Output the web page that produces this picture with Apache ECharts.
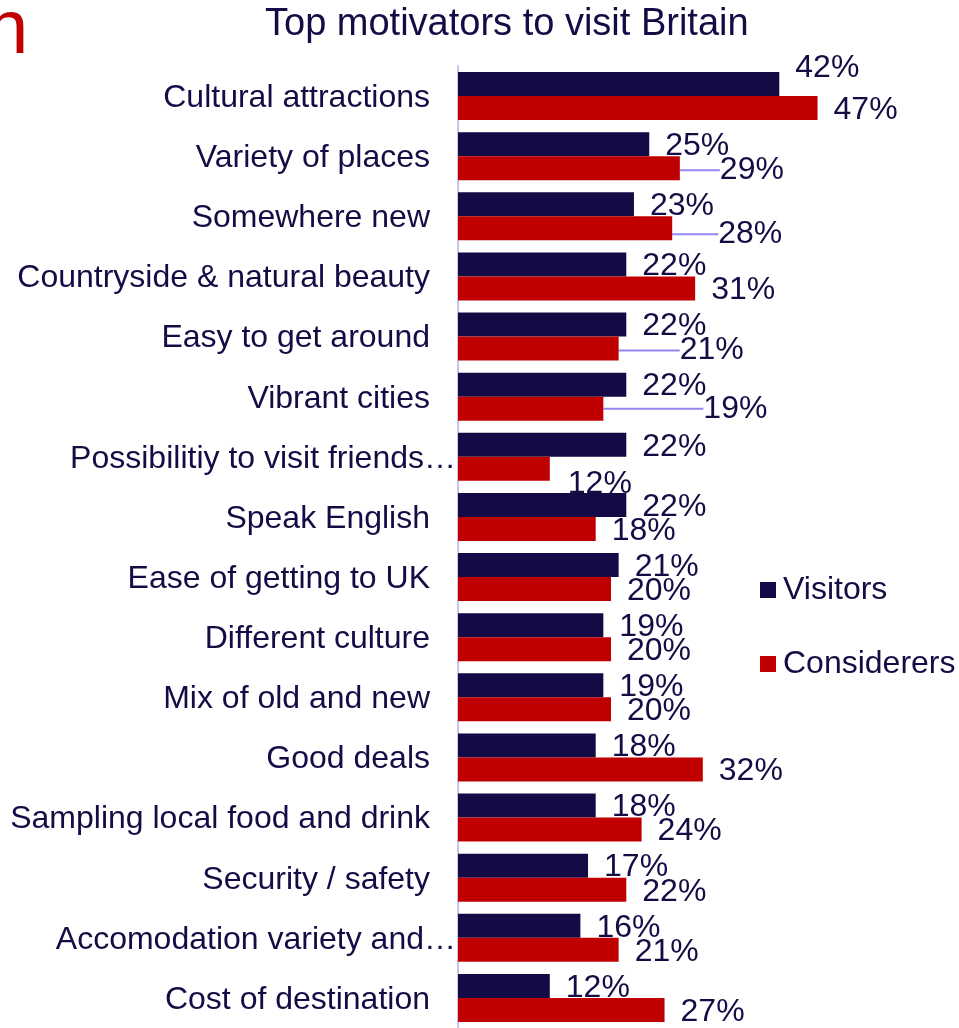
<!DOCTYPE html>
<html>
<head>
<meta charset="utf-8">
<script src="https://cdn.jsdelivr.net/npm/echarts@6/dist/echarts.min.js"></script>
<style>
html,body{margin:0;padding:0;background:#fff;}
#c{width:959px;height:1028px;}
</style>
</head>
<body>
<div id="c"></div>
<script>
const categories = [
  'Cultural attractions',
  'Variety of places',
  'Somewhere new',
  'Countryside & natural beauty',
  'Easy to get around',
  'Vibrant cities',
  'Possibilitiy to visit friends…',
  'Speak English',
  'Ease of getting to UK',
  'Different culture',
  'Mix of old and new',
  'Good deals',
  'Sampling local food and drink',
  'Security / safety',
  'Accomodation variety and…',
  'Cost of destination'
];
const visitors    = [42, 25, 23, 22, 22, 22, 22, 22, 21, 19, 19, 18, 18, 17, 16, 12];
const considerers = [47, 29, 28, 31, 21, 19, 12, 18, 20, 20, 20, 32, 24, 22, 21, 27];

// label nudges (layout only), keyed by data index: [dx, dy, leaderLine]
const visitorLabelNudge = { 0: [0, -18, false] };
const considererLabelNudge = {
  1: [24, 0, true],
  2: [30, 4, true],
  4: [45, 0, true],
  5: [84, -2, true],
  6: [2, 13, false]
};

const NAVY = '#140A45';
const RED = '#C00000';
const TEXT = '#150C45';
const FONT = '"Liberation Sans", Arial, sans-serif';

function buildData(values, nudges) {
  return values.map((v, i) => {
    const n = nudges[i];
    return { value: v, labelLine: { show: !!(n && n[2]) } };
  });
}
function layoutFn(nudges) {
  return function (p) {
    const n = nudges[p.dataIndex];
    if (!n) return { dy: 2 };
    return { dx: n[0], dy: n[1] + 2 };
  };
}

const chart = echarts.init(document.getElementById('c'), null, { renderer: 'canvas' });
const labelCommon = {
  show: true,
  position: 'right',
  distance: 16,
  color: TEXT,
  fontSize: 32,
  fontFamily: FONT,
  formatter: '{c}%'
};
chart.setOption({
  animation: false,
  backgroundColor: '#ffffff',
  title: {
    text: 'Top motivators to visit Britain',
    left: 260,
    top: 1,
    textStyle: { color: TEXT, fontSize: 38, fontWeight: 'normal', fontFamily: FONT }
  },
  graphic: [{
    type: 'text',
    left: -14,
    top: -6,
    style: { text: 'n', fontSize: 76, fill: RED, fontFamily: FONT }
  }],
  legend: {
    orient: 'vertical',
    left: 760,
    top: 574,
    padding: 0,
    icon: 'rect',
    itemWidth: 16,
    itemHeight: 16,
    itemGap: 42,
    textStyle: { color: TEXT, fontSize: 32, fontFamily: FONT, padding: [0, 0, 0, 2] },
    data: ['Visitors', 'Considerers']
  },
  grid: { left: 458, top: 66, width: 459, height: 965, containLabel: false },
  xAxis: {
    type: 'value',
    min: 0,
    max: 60,
    show: false
  },
  yAxis: {
    type: 'category',
    inverse: true,
    data: categories,
    axisLine: { show: true, lineStyle: { color: '#C9C3F0', width: 2 } },
    axisTick: { show: false },
    splitLine: { show: false },
    axisLabel: {
      margin: 2,
      color: TEXT,
      fontSize: 32,
      fontFamily: FONT,
      formatter: function (v) {
        return v.endsWith('…') ? '{t|' + v + '}' : '{n|' + v + '}';
      },
      rich: {
        n: { color: TEXT, fontSize: 32, fontFamily: FONT, padding: [4, 26, 0, 0] },
        t: { color: TEXT, fontSize: 32, fontFamily: FONT, padding: [4, 0, 0, 0] }
      }
    }
  },
  series: [
    {
      name: 'Visitors',
      type: 'bar',
      data: buildData(visitors, visitorLabelNudge),
      barGap: '0%',
      barCategoryGap: '20%',
      itemStyle: { color: NAVY },
      label: labelCommon,
      labelLayout: layoutFn(visitorLabelNudge),
      labelLine: { show: false, lineStyle: { color: '#9487F2', width: 2 } }
    },
    {
      name: 'Considerers',
      type: 'bar',
      data: buildData(considerers, considererLabelNudge),
      barGap: '0%',
      barCategoryGap: '20%',
      itemStyle: { color: RED },
      label: labelCommon,
      labelLayout: layoutFn(considererLabelNudge),
      labelLine: { show: false, lineStyle: { color: '#9487F2', width: 2 } }
    }
  ]
});
</script>
</body>
</html>
